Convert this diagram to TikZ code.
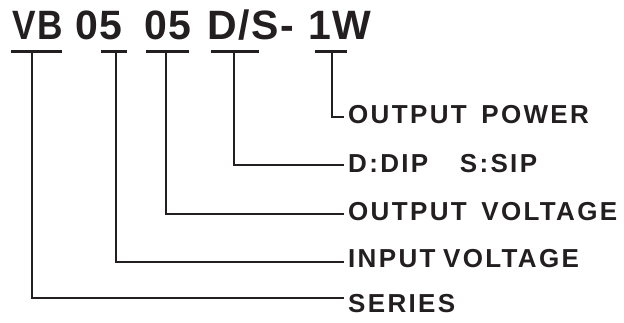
\documentclass[tikz,border=0pt]{standalone}
\usepackage{fontspec}
\usepackage{tikz}
\usetikzlibrary{positioning}
\newfontfamily\codefont[LetterSpace=4]{Liberation Sans Bold}
\newfontfamily\codenarrow[LetterSpace=4,FakeStretch=0.86]{Liberation Sans Bold}
\newfontfamily\lblfont[LetterSpace=9]{Liberation Sans Bold}
\definecolor{ink}{HTML}{231F20}
\tikzset{%
	wire/.style = {line width = 2.6pt, draw = ink},
	part/.style = {name = #1, anchor = base west, inner sep = 0pt, text = ink, font = \codefont\fontsize{41}{48}\selectfont},
	lbl/.style = {name = #1, anchor = west, inner xsep = 4pt, inner ysep = 0pt, text = ink, font = \lblfont\fontsize{26}{30}\selectfont}
}
\begin{document}
\begin{tikzpicture}[x=1pt, y=-1pt]
			\useasboundingbox (0,0) rectangle (624,322);
			% code parts
			\node [part = {vb}] at (12.5,39) {\codenarrow VB};
			\node [part = {vin}] at (75,39) {05};
			\node [part = {vout}] at (144,39) {05};
			\node [part = {pkg}] at (207,39) {D/S-};
			\node [part = {pw}] at (308,39) {1W};
			% bars under the parts
			\coordinate (vbL) at (11,51.5);   \coordinate (vbR) at (62,51.5);   \coordinate (vbT) at (32,51.5);
			\coordinate (vinL) at (101,51.5); \coordinate (vinR) at (127,51.5); \coordinate (vinT) at (116,51.5);
			\coordinate (voutL) at (146,51.5);\coordinate (voutR) at (189,51.5);\coordinate (voutT) at (166,51.5);
			\coordinate (pkgL) at (211,51.5); \coordinate (pkgR) at (259,51.5); \coordinate (pkgT) at (234,51.5);
			\coordinate (pwL) at (315,51.5);  \coordinate (pwR) at (347,51.5);  \coordinate (pwT) at (332,51.5);
			\draw [wire] (vbL) -- (vbR);
			\draw [wire] (vinL) -- (vinR);
			\draw [wire] (voutL) -- (voutR);
			\draw [wire] (pkgL) -- (pkgR);
			\draw [wire] (pwL) -- (pwR);
			% labels
			\node [lbl = {power}] at (344,115) {OUTPUT\hspace{5pt} POWER};
			\node [lbl = {dip}] at (344,164) {D:DIP\hspace{22pt} S:SIP};
			\node [lbl = {vo}] at (344,212) {OUTPUT\hspace{5pt} VOLTAGE};
			\node [lbl = {vi}] at (344,259) {INPUT\hspace{-2pt} VOLTAGE};
			\node [lbl = {series}] at (344,304) {SERIES};
			\draw [wire] (pwT) |- ([yshift=-2pt]power.west);
			\draw [wire] (pkgT) |- ([yshift=-1pt]dip.west);
			\draw [wire] (voutT) |- ([yshift=-2pt]vo.west);
			\draw [wire] (vinT) |- ([yshift=-3pt]vi.west);
			\draw [wire] (vbT) |- ([yshift=6pt]series.west);
\end{tikzpicture}
\end{document}
